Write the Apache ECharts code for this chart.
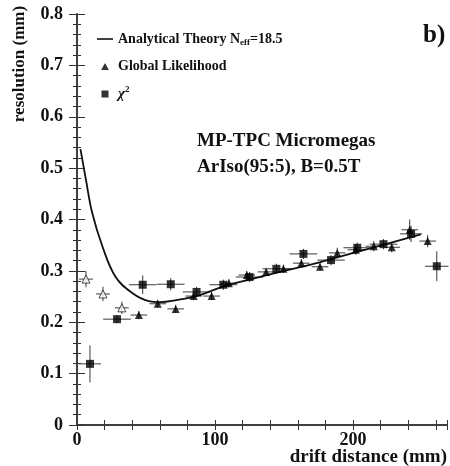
<!DOCTYPE html>
<html>
<head>
<meta charset="utf-8">
<script src="https://cdn.jsdelivr.net/npm/echarts@6/dist/echarts.min.js"></script>
<style>
html,body{margin:0;padding:0;background:#fff;}
#main{width:450px;height:466px;}
</style>
</head>
<body>
<div id="main"></div>
<script>
// Analytical theory curve
const theoryX = [2.5, 6.5, 11, 18.5, 28, 40, 52, 60, 72, 89, 105, 125, 150, 175, 200, 225, 249];
const theoryY = [0.537, 0.477, 0.413, 0.347, 0.288, 0.257, 0.241, 0.239, 0.243, 0.253, 0.269, 0.283, 0.300, 0.316, 0.335, 0.353, 0.371];

// Global likelihood (filled triangles)
const glX = [44.8, 58.5, 71.5, 84.5, 97.5, 110, 123, 137, 149.5, 162.5, 176, 188.5, 202, 215, 228, 241, 254];
const glY = [0.214, 0.236, 0.226, 0.251, 0.251, 0.276, 0.292, 0.298, 0.304, 0.315, 0.308, 0.335, 0.341, 0.348, 0.346, 0.380, 0.358];
const glXErr = [6, 6, 6, 6, 6, 6, 6, 6, 6, 6, 6, 6, 6, 6, 6, 6, 6];
const glYErr = [0.008, 0.008, 0.008, 0.008, 0.008, 0.008, 0.008, 0.008, 0.008, 0.008, 0.008, 0.01, 0.01, 0.01, 0.01, 0.02, 0.012];

// Global likelihood, open triangles (small drift)
const glOpenX = [6.5, 18.8, 32.5];
const glOpenY = [0.284, 0.255, 0.228];
const glOpenXErr = [5, 5, 5];
const glOpenYErr = [0.016, 0.014, 0.012];

// chi^2 (filled squares)
const chiX = [9.4, 29, 47.6, 67.9, 86.6, 106, 125, 144.4, 164, 184, 203, 222, 242, 260.6];
const chiY = [0.119, 0.206, 0.273, 0.274, 0.259, 0.273, 0.288, 0.304, 0.333, 0.321, 0.345, 0.352, 0.372, 0.309];
const chiXErr = [8, 10, 10, 10, 10, 10, 10, 10, 10, 10, 10, 10, 8, 8.5];
const chiYErr = [0.036, 0.008, 0.018, 0.012, 0.01, 0.01, 0.01, 0.01, 0.01, 0.01, 0.01, 0.01, 0.016, 0.029];

// axis ticks
const yTicks = [0, 0.1, 0.2, 0.3, 0.4, 0.5, 0.6, 0.7, 0.8];
const xTickLabels = [0, 100, 200];

const FONT = 'Liberation Serif';
const AX = '#333';

function pairs(xs, ys) { return xs.map((x, i) => [x, ys[i]]); }
function errData(xs, ys, xe, ye) { return xs.map((x, i) => [x, ys[i], xe[i], ye[i]]); }

function errRender(params, api) {
  const x = api.value(0), y = api.value(1), xe = api.value(2), ye = api.value(3);
  const a = api.coord([x - xe, y]), b = api.coord([x + xe, y]);
  const c = api.coord([x, y - ye]), d = api.coord([x, y + ye]);
  const st = { stroke: '#3a3a3a', lineWidth: 1 };
  return {
    type: 'group',
    children: [
      { type: 'line', shape: { x1: a[0], y1: a[1], x2: b[0], y2: b[1] }, style: st },
      { type: 'line', shape: { x1: c[0], y1: c[1], x2: d[0], y2: d[1] }, style: st }
    ]
  };
}

const chart = echarts.init(document.getElementById('main'), null, { renderer: 'canvas' });

const axisLineStyle = { color: AX, width: 1.5 };
const labelStyle = { fontFamily: FONT, fontWeight: 'bold', fontSize: 18, color: '#111' };

chart.setOption({
  animation: false,
  backgroundColor: '#fff',
  grid: { left: 77, right: 2, top: 14, bottom: 41, containLabel: false },
  title: [
    {
      text: 'MP-TPC Micromegas\nArIso(95:5), B=0.5T',
      left: 192, top: 123,
      textStyle: { fontFamily: FONT, fontWeight: 'bold', fontSize: 19, lineHeight: 26, color: '#111' }
    },
    {
      text: 'b)',
      left: 418, top: 18,
      textStyle: { fontFamily: FONT, fontWeight: 'bold', fontSize: 25, color: '#111' }
    }
  ],
  legend: {
    data: [
      { name: 'Analytical Theory', icon: 'path://M0,0H16V1.6H0Z' },
      { name: 'Global Likelihood', icon: 'path://M5,0L10,9L0,9Z' },
      { name: 'chi2', icon: 'path://M0,0H9V9H0Z' }
    ],
    orient: 'vertical',
    left: 97, top: 31, padding: 0,
    itemWidth: 16, itemHeight: 7,
    itemGap: 11,
    textStyle: {
      fontFamily: FONT, fontWeight: 'bold', fontSize: 14, color: '#111', lineHeight: 16,
      rich: {
        b: { fontFamily: FONT, fontWeight: 'bold', fontSize: 14, color: '#111' },
        sub: { fontFamily: FONT, fontWeight: 'bold', fontSize: 9, color: '#111', padding: [8, 0, 0, 0] },
        chi: { fontFamily: FONT, fontStyle: 'italic', fontSize: 15, color: '#111' },
        sup: { fontFamily: FONT, fontWeight: 'bold', fontSize: 9, color: '#111', padding: [0, 0, 8, 0] }
      }
    },
    formatter: function (name) {
      if (name === 'Analytical Theory') return '{b|Analytical Theory N}{sub|eff}{b|=18.5}';
      if (name === 'chi2') return '{chi|χ}{sup|2}';
      return '{b|' + name + '}';
    }
  },
  xAxis: [
    {
      type: 'value', min: 0, max: 268, interval: 20, position: 'bottom',
      axisLine: { lineStyle: axisLineStyle },
      axisTick: { inside: true, length: 5, lineStyle: { color: AX, width: 1 } },
      splitLine: { show: false },
      axisLabel: {
        margin: 6, ...labelStyle,
        formatter: v => (xTickLabels.indexOf(v) >= 0 ? String(v) : '')
      }
    },
    {
      type: 'value', min: 0, max: 268, interval: 20, position: 'top',
      axisLine: { lineStyle: axisLineStyle },
      axisTick: { inside: true, length: 5, lineStyle: { color: AX, width: 1 } },
      splitLine: { show: false },
      axisLabel: { show: false }
    }
  ],
  yAxis: [
    {
      type: 'value', min: 0, max: 0.8, interval: 0.1, position: 'left',
      axisLine: { show: true, lineStyle: axisLineStyle },
      axisTick: { show: true, inside: true, length: 8, lineStyle: { color: AX, width: 1 } },
      minorTick: { show: true, splitNumber: 5, length: 4, lineStyle: { color: AX, width: 1 } },
      splitLine: { show: false },
      axisLabel: {
        margin: 14, ...labelStyle,
        formatter: v => { const t = yTicks.find(k => Math.abs(k - v) < 1e-9); return t === 0 ? '0' : (t !== undefined ? t.toFixed(1) : ''); }
      }
    },
    {
      type: 'value', min: 0, max: 0.8, interval: 0.1, position: 'right',
      axisLine: { show: true, lineStyle: axisLineStyle },
      axisTick: { show: true, inside: true, length: 8, lineStyle: { color: AX, width: 1 } },
      minorTick: { show: true, splitNumber: 5, length: 4, lineStyle: { color: AX, width: 1 } },
      splitLine: { show: false },
      axisLabel: { show: false }
    }
  ],
  graphic: [
    {
      type: 'text', x: 20, y: 64, rotation: Math.PI / 2,
      style: { text: 'resolution (mm)', font: 'bold 17px "Liberation Serif"', fill: '#111', align: 'center', verticalAlign: 'middle' }
    },
    {
      type: 'text', x: 447, y: 457,
      style: { text: 'drift distance (mm)', font: 'bold 19px "Liberation Serif"', fill: '#111', align: 'right', verticalAlign: 'middle' }
    }
  ],
  series: [
    {
      name: 'Analytical Theory', type: 'line', smooth: 0.4, symbol: 'none',
      data: pairs(theoryX, theoryY),
      lineStyle: { color: '#111', width: 1.8 }, itemStyle: { color: '#111' }, z: 3
    },
    {
      name: 'errGL', type: 'custom', renderItem: errRender,
      data: errData(glX, glY, glXErr, glYErr), encode: { x: 0, y: 1 }, z: 2, silent: true
    },
    {
      name: 'errGLopen', type: 'custom', renderItem: errRender,
      data: errData(glOpenX, glOpenY, glOpenXErr, glOpenYErr), encode: { x: 0, y: 1 }, z: 2, silent: true
    },
    {
      name: 'errChi', type: 'custom', renderItem: errRender,
      data: errData(chiX, chiY, chiXErr, chiYErr), encode: { x: 0, y: 1 }, z: 2, silent: true
    },
    {
      name: 'Global Likelihood', type: 'scatter', symbol: 'triangle', symbolSize: 8,
      data: pairs(glX, glY), itemStyle: { color: '#000' }, z: 4
    },
    {
      name: 'Global Likelihood (open)', type: 'scatter', symbol: 'triangle', symbolSize: 8,
      data: pairs(glOpenX, glOpenY), itemStyle: { color: '#fff', borderColor: '#222', borderWidth: 1 }, z: 4
    },
    {
      name: 'chi2', type: 'scatter', symbol: 'rect', symbolSize: 8,
      data: pairs(chiX, chiY), itemStyle: { color: '#000' }, z: 4
    }
  ]
});
</script>
</body>
</html>
